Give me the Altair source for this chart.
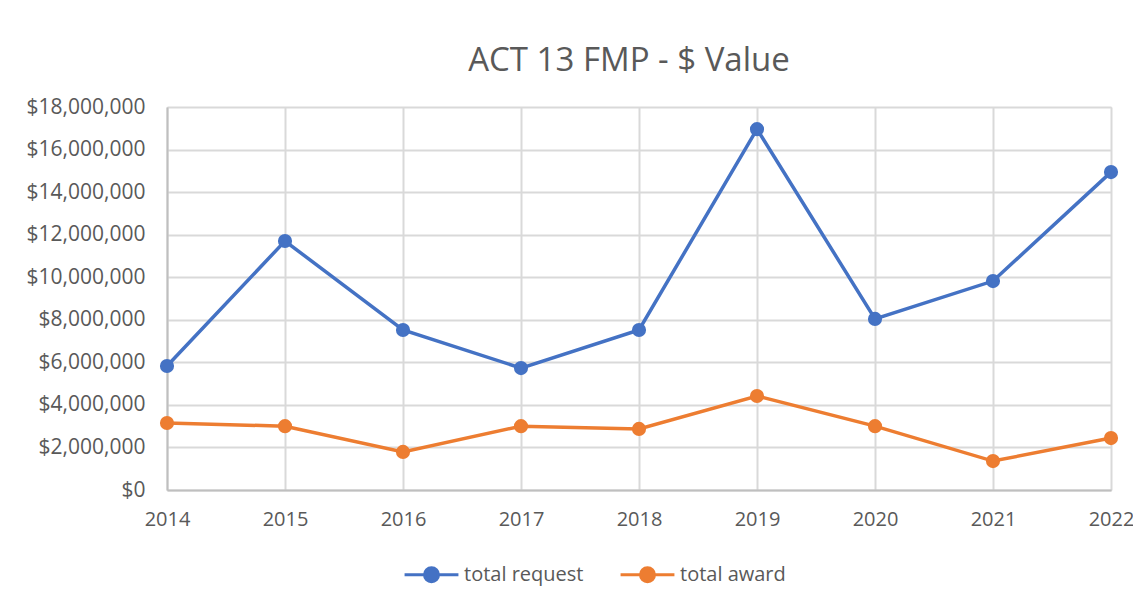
import altair as alt
import pandas as pd

years = [2014, 2015, 2016, 2017, 2018, 2019, 2020, 2021, 2022]
total_request = [5830000, 11700000, 7520000, 5730000, 7520000, 16960000, 8040000, 9820000, 14940000]
total_award = [3150000, 3000000, 1790000, 3000000, 2870000, 4420000, 3000000, 1360000, 2440000]
series_names = ["total request", "total award"]
colors = ["#4472C4", "#ED7D31"]
y_ticks = [0, 2000000, 4000000, 6000000, 8000000, 10000000, 12000000, 14000000, 16000000, 18000000]

rows = []
for i, yr in enumerate(years):
    rows.append({"year": yr, "series": series_names[0], "value": total_request[i]})
    rows.append({"year": yr, "series": series_names[1], "value": total_award[i]})
df = pd.DataFrame(rows)

FONT = "Open Sans"
GRAY = "#595959"

legend_path = "M-1,0L-0.27,0M0.27,0L1,0M-0.26,0A0.26,0.26 0 1,1 0.26,0A0.26,0.26 0 1,1 -0.26,0Z"

color = alt.Color(
    "series:N",
    scale=alt.Scale(domain=series_names, range=colors),
    sort=series_names,
    legend=alt.Legend(
        title=None,
        orient="none",
        direction="horizontal",
        legendX=236,
        legendY=439,
        symbolType=legend_path,
        symbolSize=2900,
        symbolStrokeWidth=3,
        labelFont=FONT,
        labelFontSize=20,
        labelColor=GRAY,
        labelOffset=4,
        columnPadding=30,
        padding=0,
    ),
)

x = alt.X(
    "year:Q",
    scale=alt.Scale(domain=[2014, 2022], nice=False, zero=False),
    axis=alt.Axis(
        title=None,
        values=years,
        format="d",
        labelFont=FONT,
        labelFontSize=20,
        labelColor=GRAY,
        labelPadding=19,
        ticks=False,
        domainColor="#BFBFBF",
        domainWidth=2,
        gridColor="#D9D9D9",
        gridWidth=2,
        labelFlush=False,
    ),
)
y = alt.Y(
    "value:Q",
    scale=alt.Scale(domain=[0, 18000000], nice=False),
    axis=alt.Axis(
        title=None,
        values=y_ticks,
        format="$,.0f",
        labelFont=FONT,
        labelFontSize=21,
        labelColor=GRAY,
        labelPadding=22,
        ticks=False,
        domainColor="#BFBFBF",
        domainWidth=2,
        gridColor="#D9D9D9",
        gridWidth=2,
    ),
)

base = alt.Chart(df)
lines = base.mark_line(strokeWidth=3.5).encode(x=x, y=y, color=color, order="year:Q")
points = base.mark_point(filled=True, size=200, opacity=1).encode(x=x, y=y, color=color)

chart = (
    alt.layer(lines, points)
    .properties(
        width=944,
        height=383,
        title=alt.TitleParams(
            "ACT 13 FMP - $ Value",
            font=FONT,
            fontSize=33,
            fontWeight="normal",
            color=GRAY,
            anchor="middle",
            offset=18,
            dx=-10,
        ),
        autosize=alt.AutoSizeParams(type="none"),
        padding={"left": 159, "top": 99, "right": 22, "bottom": 100},
    )
    .configure_view(stroke="#D9D9D9", strokeWidth=2)
    .configure(background="white")
)

chart.save("out.html", embed_options={"renderer": "svg", "actions": False})
